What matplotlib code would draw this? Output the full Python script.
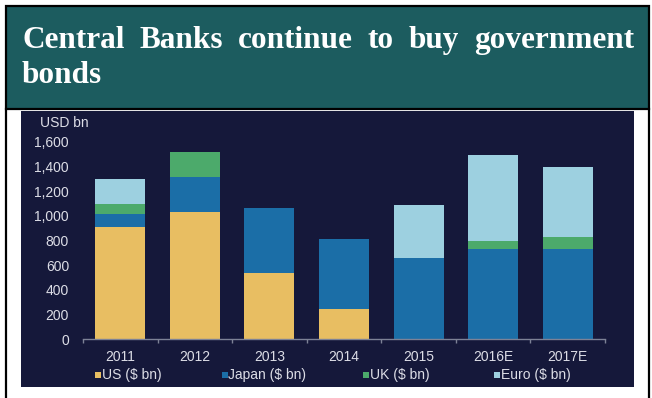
import matplotlib
matplotlib.use("Agg")
import matplotlib.pyplot as plt
from matplotlib.patches import Rectangle
import numpy as np

# Data (USD bn)
years = ["2011", "2012", "2013", "2014", "2015", "2016E", "2017E"]
us = [907, 1028, 535, 245, 0, 0, 0]
japan = [110, 285, 530, 565, 658, 729, 729]
uk = [80, 200, 0, 0, 0, 67, 97]
euro = [205, 0, 0, 0, 430, 696, 569]
series_names = ["US ($ bn)", "Japan ($ bn)", "UK ($ bn)", "Euro ($ bn)"]
series_colors = ["#e8be62", "#1b6ea7", "#4caa6b", "#9dd0e0"]
y_ticks = [0, 200, 400, 600, 800, 1000, 1200, 1400, 1600]
title_words = "Central Banks continue to buy government".split()
title_line2 = "bonds"

W, H = 652, 398
fig = plt.figure(figsize=(W / 100, H / 100), dpi=100, facecolor="white")

# Overlay axes in pixel coordinates for the frame, title and legend
ov = fig.add_axes([0, 0, 1, 1])
ov.set_xlim(0, W)
ov.set_ylim(H, 0)
ov.axis("off")

teal = "#1c5c5f"
navy = "#15183a"
text_col = "#dcdde6"

# Title box
ov.add_patch(Rectangle((6, 6), 643, 103, facecolor=teal, edgecolor="black", lw=1.6, zorder=1))
# Lower box sides
ov.plot([6, 6], [109, H], color="black", lw=1.6, zorder=1)
ov.plot([649, 649], [109, H], color="black", lw=1.6, zorder=1)
# Chart background
ov.add_patch(Rectangle((21, 111), 613, 276, facecolor=navy, edgecolor="none", zorder=1))

# Justified first title line
title_font = dict(family="Liberation Serif", fontweight="bold", fontsize=22.5, color="white")
renderer = fig.canvas.get_renderer()
x_left, x_right = 22, 634
texts = [ov.text(0, 48, w, ha="left", va="baseline", **title_font, zorder=3) for w in title_words]
widths = []
for t in texts:
    bb = t.get_window_extent(renderer=renderer)
    widths.append(bb.width)
gap = (x_right - x_left - sum(widths)) / (len(widths) - 1)
x = x_left
for t, w in zip(texts, widths):
    t.set_x(x)
    x += w + gap
ov.text(x_left, 83, title_line2, ha="left", va="baseline", **title_font, zorder=3)

# Bar chart axes
x0, x1 = 83, 605
y_zero, y_top = 339.3, 141.7
ax = fig.add_axes([x0 / W, 1 - y_zero / H, (x1 - x0) / W, (y_zero - y_top) / H])
ax.set_facecolor("none")
ax.patch.set_alpha(0)

pos = np.arange(len(years))
bottom = np.zeros(len(years))
for vals, name, col in zip([us, japan, uk, euro], series_names, series_colors):
    ax.bar(pos, vals, width=0.67, bottom=bottom, color=col, label=name, zorder=2)
    bottom += np.array(vals)

ax.set_xlim(-0.5, len(years) - 0.5)
ax.set_ylim(0, 1600)
ax.set_yticks(y_ticks)
ax.set_yticklabels([f"{v:,}" for v in y_ticks])
ax.set_xticks(pos)
ax.set_xticklabels(years)
ax.set_xticks(np.arange(-0.5, len(years), 1.0), minor=True)
for s in ["top", "right", "left"]:
    ax.spines[s].set_visible(False)
ax.spines["bottom"].set_color("#7d8296")
ax.spines["bottom"].set_linewidth(1.0)
ax.tick_params(axis="y", length=0, pad=10, labelsize=10, labelcolor=text_col)
ax.tick_params(axis="x", which="major", length=0, pad=8, labelsize=10, labelcolor=text_col)
ax.tick_params(axis="x", which="minor", length=3, color="#7d8296", width=1.0)
for lbl in ax.get_xticklabels() + ax.get_yticklabels():
    lbl.set_family("Liberation Sans")

ov.text(40, 123, "USD bn", ha="left", va="center", fontsize=10,
        family="Liberation Sans", color=text_col, zorder=3)

# Legend row
leg_x = [95, 221.5, 362.5, 494]
for lx, name, col in zip(leg_x, series_names, series_colors):
    ov.add_patch(Rectangle((lx, 371.5), 6, 6, facecolor=col, edgecolor="none", zorder=3))
    ov.text(lx + 7, 374.5, name, ha="left", va="center", fontsize=10,
            family="Liberation Sans", color=text_col, zorder=3)

fig.savefig("out.png", dpi=100, facecolor="white")
